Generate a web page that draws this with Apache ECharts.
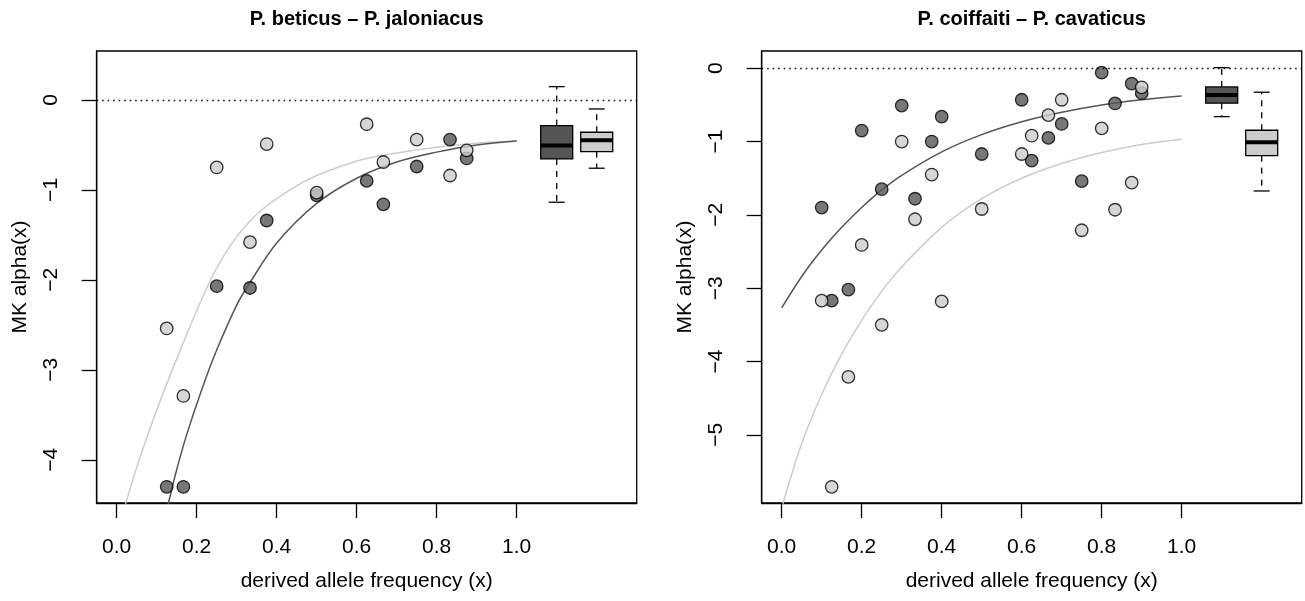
<!DOCTYPE html>
<html><head><meta charset="utf-8">
<script src="https://cdn.jsdelivr.net/npm/echarts@6/dist/echarts.min.js"></script>
<style>html,body{margin:0;padding:0;background:#fff}#c{width:1305px;height:601px}</style>
</head><body><div id="c"></div>
<script>
// ---- data ----
const leftTitle = 'P. beticus \u2013 P. jaloniacus';
const rightTitle = 'P. coiffaiti \u2013 P. cavaticus';
const xTicks = [0, 0.2, 0.4, 0.6, 0.8, 1.0];
const leftYTicks = [-4, -3, -2, -1, 0];
const rightYTicks = [-5, -4, -3, -2, -1, 0];

const leftX = [0.125, 0.1667, 0.25, 0.3333, 0.375, 0.5, 0.625, 0.6667, 0.75, 0.8333, 0.875];
const leftDarkY = [-4.30, -4.30, -2.07, -2.09, -1.34, -1.06, -0.90, -1.16, -0.74, -0.44, -0.65];
const leftLightY = [-2.54, -3.29, -0.75, -1.58, -0.49, -1.03, -0.27, -0.69, -0.44, -0.84, -0.56];

const rightX = [0.1, 0.125, 0.1667, 0.2, 0.25, 0.3, 0.3333, 0.375, 0.4, 0.5, 0.6, 0.625, 0.6667, 0.7, 0.75, 0.8, 0.8333, 0.875, 0.9];
const rightDarkY = [-1.90, -3.17, -3.02, -0.85, -1.65, -0.51, -1.78, -1.00, -0.66, -1.17, -0.43, -1.26, -0.95, -0.76, -1.54, -0.06, -0.48, -0.21, -0.34];
const rightLightY = [-3.17, -5.71, -4.21, -2.41, -3.50, -1.00, -2.06, -1.45, -3.18, -1.92, -1.17, -0.92, -0.64, -0.43, -2.21, -0.82, -1.93, -1.56, -0.26];

const leftDarkCurveX = [0.12, 0.131, 0.15, 0.175, 0.2125, 0.25, 0.3, 0.329, 0.4, 0.5, 0.6, 0.7, 0.8, 0.9, 1.0];
const leftDarkCurveY = [-4.65, -4.45, -4.11, -3.72, -3.22, -2.78, -2.28, -2.06, -1.59, -1.15, -0.87, -0.69, -0.58, -0.50, -0.456];
const leftLightCurveX = [0.015, 0.023, 0.06, 0.1125, 0.15, 0.183, 0.22, 0.25, 0.29, 0.35, 0.433, 0.5, 0.608, 0.7, 0.8, 0.9, 1.0];
const leftLightCurveY = [-4.6, -4.478, -3.95, -3.30, -2.88, -2.52, -2.14, -1.87, -1.58, -1.27, -1.00, -0.84, -0.67, -0.59, -0.525, -0.48, -0.456];

const rightDarkCurveX = [0, 0.05, 0.1, 0.15, 0.2, 0.25, 0.3, 0.4, 0.5, 0.6, 0.7, 0.8, 0.9, 1.0];
const rightDarkCurveY = [-3.27, -2.84, -2.48, -2.17, -1.90, -1.66, -1.46, -1.14, -0.905, -0.73, -0.60, -0.50, -0.43, -0.378];
const rightLightCurveX = [0, 0.05, 0.1, 0.15, 0.2, 0.25, 0.3, 0.4, 0.5, 0.6, 0.7, 0.8, 0.9, 1.0];
const rightLightCurveY = [-6.0, -5.12, -4.45, -3.90, -3.44, -3.04, -2.71, -2.17, -1.78, -1.50, -1.30, -1.15, -1.04, -0.97];

// boxplots: [position, lower whisker, Q1, median, Q3, upper whisker]
const leftBoxDark = [1.1, -1.137, -0.656, -0.507, -0.285, 0.148];
const leftBoxLight = [1.2, -0.759, -0.574, -0.448, -0.359, -0.10];
const rightBoxDark = [1.1, -0.66, -0.477, -0.364, -0.255, 0.008];
const rightBoxLight = [1.2, -1.674, -1.192, -1.01, -0.846, -0.327];

const refY = 0;
const xRange = [-0.05, 1.3];
const leftYRange = [-4.48, 0.544];
const rightYRange = [-5.93, 0.235];

// ---- styles ----
const DARK = '#555555', LIGHT = '#cccccc';
const FONT = '"Liberation Sans", Arial, Helvetica, sans-serif';
const BOXW = 0.08;

const zip = (xs, ys) => xs.map((x, i) => [x, ys[i]]);
const minus = v => String(v).replace('-', '\u2212');

function xAxisDef(gi) {
  return {
    type: 'value', gridIndex: gi, min: xRange[0], max: xRange[1],
    splitLine: { show: false },
    axisLine: { show: true, onZero: false, lineStyle: { color: '#000', width: 1.3 } },
    axisTick: { show: true, customValues: xTicks, length: 15, lineStyle: { color: '#000', width: 1.3 } },
    axisLabel: { customValues: xTicks, formatter: v => Number(v).toFixed(1), margin: 34, fontSize: 21, color: '#000', fontFamily: FONT },
    name: 'derived allele frequency (x)', nameLocation: 'middle', nameGap: 68,
    nameTextStyle: { fontSize: 21, color: '#000', fontFamily: FONT }
  };
}
function yAxisDef(gi, range, ticks) {
  return {
    type: 'value', gridIndex: gi, min: range[0], max: range[1],
    splitLine: { show: false },
    axisLine: { show: true, onZero: false, lineStyle: { color: '#000', width: 1.3 } },
    axisTick: { show: true, customValues: ticks, length: 15, lineStyle: { color: '#000', width: 1.3 } },
    axisLabel: { customValues: ticks, rotate: 90, formatter: v => minus(v), margin: 35, fontSize: 21, color: '#000', fontFamily: FONT },
    name: 'MK alpha(x)', nameLocation: 'middle', nameGap: 66, nameRotate: 90,
    nameTextStyle: { fontSize: 21, color: '#000', fontFamily: FONT }
  };
}

function boxRender(fill) {
  return function (params, api) {
    const x = api.value(0);
    const lo = api.coord([x, api.value(1)]);
    const q1 = api.coord([x, api.value(2)]);
    const md = api.coord([x, api.value(3)]);
    const q3 = api.coord([x, api.value(4)]);
    const hi = api.coord([x, api.value(5)]);
    const hw = api.size([BOXW, 0])[0] / 2;
    const cw = hw / 2;
    const cx = md[0];
    const st = { stroke: '#000', lineWidth: 1.3 };
    return {
      type: 'group',
      children: [
        { type: 'line', shape: { x1: cx, y1: q3[1], x2: cx, y2: hi[1] }, style: { stroke: '#000', lineWidth: 1.3, lineDash: [6, 6] } },
        { type: 'line', shape: { x1: cx, y1: q1[1], x2: cx, y2: lo[1] }, style: { stroke: '#000', lineWidth: 1.3, lineDash: [6, 6] } },
        { type: 'line', shape: { x1: cx - cw, y1: hi[1], x2: cx + cw, y2: hi[1] }, style: st },
        { type: 'line', shape: { x1: cx - cw, y1: lo[1], x2: cx + cw, y2: lo[1] }, style: st },
        { type: 'rect', shape: { x: cx - hw, y: q3[1], width: 2 * hw, height: q1[1] - q3[1] }, style: { fill: fill, stroke: '#000', lineWidth: 1.3 } },
        { type: 'line', shape: { x1: cx - hw, y1: md[1], x2: cx + hw, y2: md[1] }, style: { stroke: '#000', lineWidth: 4 } }
      ]
    };
  };
}

function panelSeries(gi, darkCurve, lightCurve, darkPts, lightPts, boxD, boxL) {
  const lineBase = { type: 'line', xAxisIndex: gi, yAxisIndex: gi, showSymbol: false, smooth: 0.35, clip: true, silent: true, z: 2 };
  const ptBase = { type: 'scatter', xAxisIndex: gi, yAxisIndex: gi, symbol: 'circle', symbolSize: 12.5, z: 4, silent: true };
  return [
    Object.assign({}, lineBase, { data: lightCurve, lineStyle: { color: LIGHT, width: 1.5 },
      markLine: { silent: true, symbol: 'none', label: { show: false }, lineStyle: { color: '#000', width: 1.3, type: [1.5, 4] }, data: [{ yAxis: refY }] } }),
    Object.assign({}, lineBase, { data: darkCurve, lineStyle: { color: DARK, width: 1.5 } }),
    Object.assign({}, ptBase, { data: darkPts, itemStyle: { color: DARK, borderColor: '#000', borderWidth: 1.3 } }),
    Object.assign({}, ptBase, { data: lightPts, itemStyle: { color: LIGHT, borderColor: '#000', borderWidth: 1.3 } }),
    { type: 'custom', xAxisIndex: gi, yAxisIndex: gi, renderItem: boxRender(DARK), data: [boxD], z: 3, silent: true, clip: false },
    { type: 'custom', xAxisIndex: gi, yAxisIndex: gi, renderItem: boxRender(LIGHT), data: [boxL], z: 3, silent: true, clip: false }
  ];
}

const chart = echarts.init(document.getElementById('c'), null, { renderer: 'canvas' });
const gridBase = { show: true, borderColor: '#000', borderWidth: 1.3, backgroundColor: 'transparent', top: 51, height: 452, width: 540 };
chart.setOption({
  animation: false,
  backgroundColor: '#fff',
  textStyle: { fontFamily: FONT },
  grid: [Object.assign({ left: 96.7 }, gridBase), Object.assign({ left: 761.7 }, gridBase)],
  xAxis: [xAxisDef(0), xAxisDef(1)],
  yAxis: [yAxisDef(0, leftYRange, leftYTicks), yAxisDef(1, rightYRange, rightYTicks)],
  graphic: [
    { type: 'text', x: 366.7, y: 19, style: { text: leftTitle, align: 'center', verticalAlign: 'middle', font: 'bold 20px ' + FONT, fill: '#000' } },
    { type: 'text', x: 1031.7, y: 19, style: { text: rightTitle, align: 'center', verticalAlign: 'middle', font: 'bold 20px ' + FONT, fill: '#000' } }
  ],
  series: [].concat(
    panelSeries(0, zip(leftDarkCurveX, leftDarkCurveY), zip(leftLightCurveX, leftLightCurveY), zip(leftX, leftDarkY), zip(leftX, leftLightY), leftBoxDark, leftBoxLight),
    panelSeries(1, zip(rightDarkCurveX, rightDarkCurveY), zip(rightLightCurveX, rightLightCurveY), zip(rightX, rightDarkY), zip(rightX, rightLightY), rightBoxDark, rightBoxLight)
  )
});
</script></body></html>
